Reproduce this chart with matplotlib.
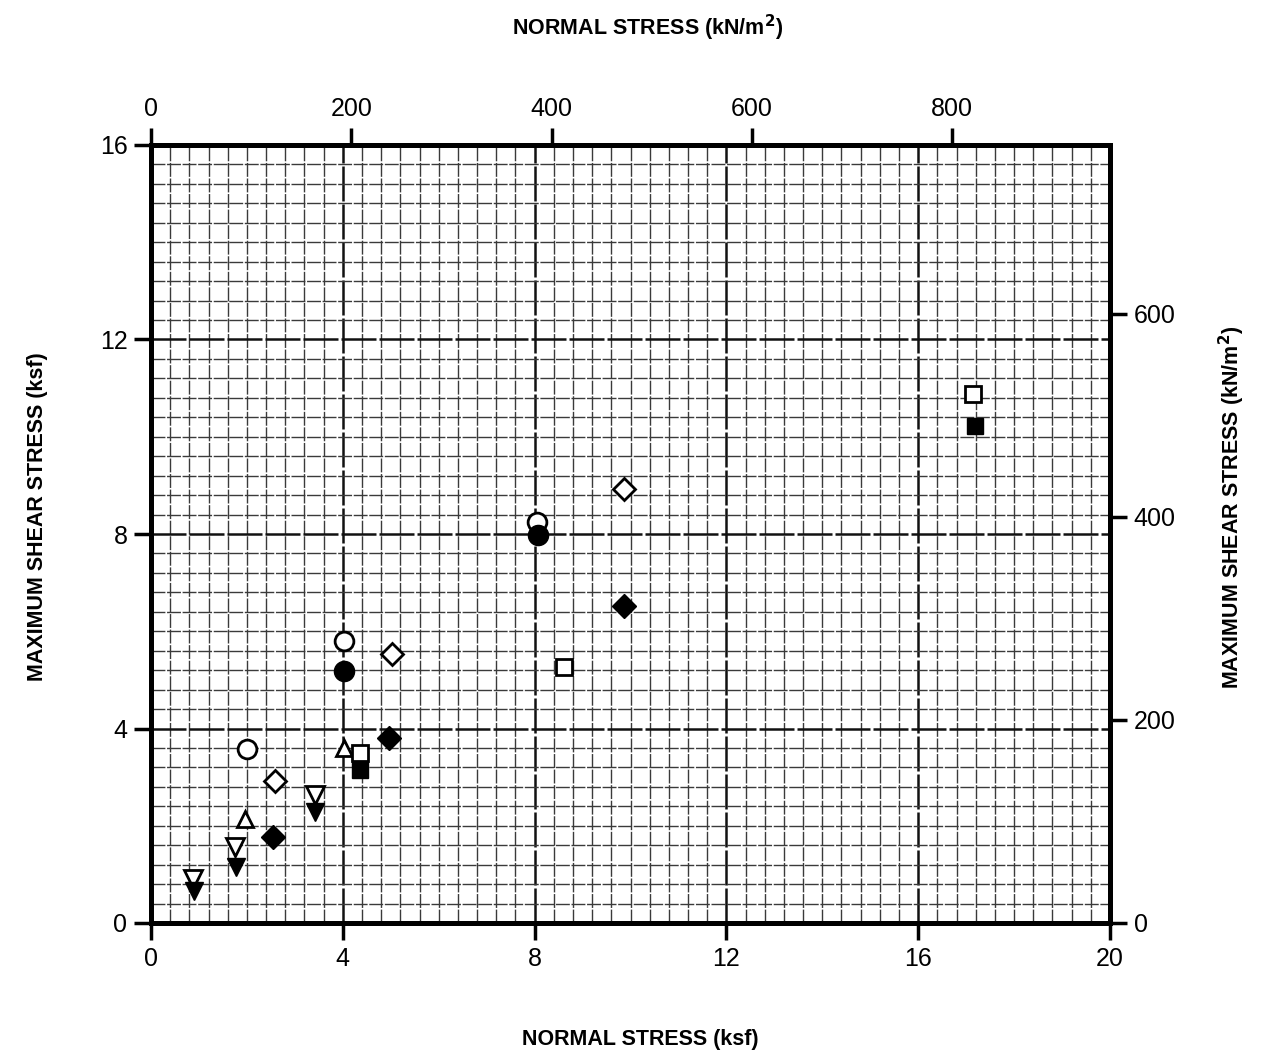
import numpy as np
import matplotlib
matplotlib.use("Agg")
import matplotlib.pyplot as plt
from matplotlib.ticker import MultipleLocator, FixedLocator

# data in ksf (x = normal stress, y = maximum shear stress)
circle_open_x = [2.00, 4.02, 8.06]
circle_open_y = [3.57, 5.80, 8.24]
circle_fill_x = [4.02, 8.08]
circle_fill_y = [5.19, 7.98]

diamond_open_x = [2.59, 5.03, 9.87]
diamond_open_y = [2.92, 5.53, 8.92]
diamond_fill_x = [2.55, 4.97, 9.87]
diamond_fill_y = [1.77, 3.80, 6.52]

tri_up_open_x = [1.95, 4.02]
tri_up_open_y = [2.14, 3.59]

square_open_x = [4.36, 8.62, 17.15]
square_open_y = [3.49, 5.27, 10.88]
square_fill_x = [4.36, 17.18]
square_fill_y = [3.15, 10.23]

tri_dn_open_x = [0.87, 1.75, 3.41]
tri_dn_open_y = [0.90, 1.57, 2.63]
tri_dn_fill_x = [0.90, 1.77, 3.41]
tri_dn_fill_y = [0.66, 1.15, 2.29]

ksf_ticks = [0, 4, 8, 12, 16, 20]
shear_ticks = [0, 4, 8, 12, 16]
kn_x_ticks = [0, 200, 400, 600, 800]
kn_y_ticks = [0, 200, 400, 600]

KSF_TO_KN = 47.88

W, H = 1269, 1059
fig = plt.figure(figsize=(W / 100, H / 100), dpi=100)
ax = fig.add_axes([151 / W, 1 - 923 / H, 959 / W, 778 / H])

ax.set_xlim(0, 20)
ax.set_ylim(0, 16)

# fine graph-paper grid
ax.xaxis.set_minor_locator(MultipleLocator(0.4))
ax.yaxis.set_minor_locator(MultipleLocator(0.4))
ax.xaxis.set_major_locator(FixedLocator(ksf_ticks))
ax.yaxis.set_major_locator(FixedLocator(shear_ticks))
ax.grid(which="minor", color="#3a3a3a", lw=1.0, ls=(0, (10, 1.2)))
ax.grid(which="major", color="#111111", lw=1.8, ls=(0, (14, 1.2)))
ax.set_axisbelow(True)

for s in ax.spines.values():
    s.set_linewidth(3.5)

tick_font = dict(family=["Liberation Sans", "DejaVu Sans"], size=18)
ax.tick_params(which="major", direction="out", length=12, width=2.5, pad=5)
ax.tick_params(which="minor", length=0)
ax.set_xticklabels([str(t) for t in ksf_ticks], **tick_font)
ax.set_yticklabels([str(t) for t in shear_ticks], **tick_font)

open_kw = dict(ls="none", mfc="white", mec="black", mew=2.0, zorder=5)
fill_kw = dict(ls="none", mfc="black", mec="black", mew=1.0, zorder=5)

ax.plot(circle_open_x, circle_open_y, "o", ms=13.5, **open_kw)
ax.plot(circle_fill_x, circle_fill_y, "o", ms=14.5, **fill_kw)
ax.plot(diamond_open_x, diamond_open_y, "D", ms=11.5, **open_kw)
ax.plot(diamond_fill_x, diamond_fill_y, "D", ms=12, **fill_kw)
ax.plot(tri_up_open_x, tri_up_open_y, "^", ms=11.5, **open_kw)
ax.plot(square_open_x, square_open_y, "s", ms=11.5, **open_kw)
ax.plot(square_fill_x, square_fill_y, "s", ms=12, **fill_kw)
ax.plot(tri_dn_open_x, tri_dn_open_y, "v", ms=12.5, **open_kw)
ax.plot(tri_dn_fill_x, tri_dn_fill_y, "v", ms=13, **fill_kw)

# secondary axes in kN/m2
axt = ax.twiny()
axt.set_xlim(0, 20 * KSF_TO_KN)
axt.xaxis.set_major_locator(FixedLocator(kn_x_ticks))
axt.set_xticklabels([str(t) for t in kn_x_ticks], **tick_font)
axt.tick_params(direction="out", length=12, width=2.5, pad=5)

axr = ax.twinx()
axr.set_ylim(0, 16 * KSF_TO_KN)
axr.yaxis.set_major_locator(FixedLocator(kn_y_ticks))
axr.set_yticklabels([str(t) for t in kn_y_ticks], **tick_font)
axr.tick_params(direction="out", length=12, width=2.5, pad=5)
for a in (axt, axr):
    for s in a.spines.values():
        s.set_linewidth(3.5)

title_font = dict(family=["Liberation Sans", "DejaVu Sans"], size=15.5, weight="bold")
fig.text(648 / W, 1 - 28 / H, r"NORMAL STRESS (kN/m$^\mathbf{2}$)",
         ha="center", va="center", **title_font)
fig.text(640 / W, 1 - 1040 / H, "NORMAL STRESS (ksf)",
         ha="center", va="center", **title_font)
fig.text(38 / W, 1 - 517 / H, "MAXIMUM SHEAR STRESS (ksf)",
         ha="center", va="center", rotation=90, **title_font)
fig.text(1232 / W, 1 - 507 / H, r"MAXIMUM SHEAR STRESS (kN/m$^\mathbf{2}$)",
         ha="center", va="center", rotation=90, **title_font)

fig.savefig("out.png", dpi=100)
